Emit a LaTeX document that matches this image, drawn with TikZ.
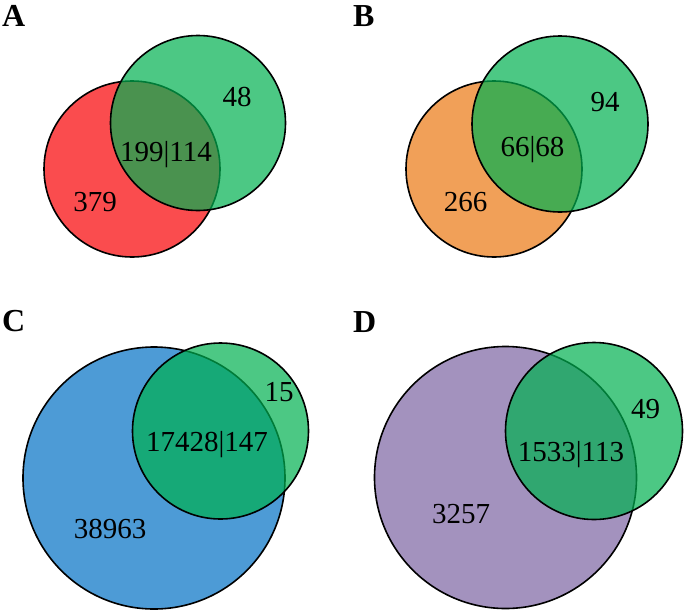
\documentclass[tikz,border=0pt]{standalone}
\usepackage{fontspec}
\setmainfont{Liberation Serif}
\definecolor{vred}{RGB}{250,76,78}
\definecolor{vorange}{RGB}{241,160,88}
\definecolor{vblue}{RGB}{77,155,214}
\definecolor{vpurple}{RGB}{163,146,190}
\definecolor{vgreen}{RGB}{0,176,80}
\tikzset{
  setbase/.style={circle, draw=black, line width=1.6pt, inner sep=0pt, outer sep=0pt},
  greenset/.style={setbase, fill=vgreen, fill opacity=0.7, draw opacity=1},
  count/.style={anchor=base, inner sep=0pt, font=\fontsize{29}{31}\selectfont},
  panel/.style={anchor=base west, inner sep=0pt, font=\fontsize{32}{34}\selectfont\bfseries}
}
\begin{document}
\begin{tikzpicture}[x=1pt,y=-1pt]
\useasboundingbox (0,0) rectangle (685,611);
% Panel A
\node[setbase, fill=vred, minimum size=176pt] (a1) at (132,169) {};
\node[greenset, minimum size=175pt] (a2) at (198,123) {};
\node[panel] (la) at (2,26) {A};
\node[count] (a48) at (237,106) {48};
\node[count] (a199) at (166,161.5) {199|114};
\node[count] (a379) at (95,211.5) {379};
% Panel B
\node[setbase, fill=vorange, minimum size=176pt] (b1) at (494,169) {};
\node[greenset, minimum size=176pt] (b2) at (560,124) {};
\node[panel] (lb) at (353,26) {B};
\node[count] (b94) at (605,111.5) {94};
\node[count] (b66) at (532.5,156.5) {66|68};
\node[count] (b266) at (465.5,211.5) {266};
% Panel C
\node[setbase, fill=vblue, minimum size=262pt] (c1) at (154,478) {};
\node[greenset, minimum size=176pt] (c2) at (220.5,431) {};
\node[panel] (lc) at (2,331) {C};
\node[count] (c15) at (279,401.5) {15};
\node[count] (c17) at (207,451.5) {17428|147};
\node[count] (c38) at (110,538) {38963};
% Panel D
\node[setbase, fill=vpurple, minimum size=262pt] (d1) at (505.5,477.5) {};
\node[greenset, minimum size=177pt] (d2) at (594,431) {};
\node[panel] (ld) at (353,332) {D};
\node[count] (d49) at (645.5,418) {49};
\node[count] (d15) at (571,461.5) {1533|113};
\node[count] (d32) at (461,523) {3257};
\end{tikzpicture}
\end{document}
